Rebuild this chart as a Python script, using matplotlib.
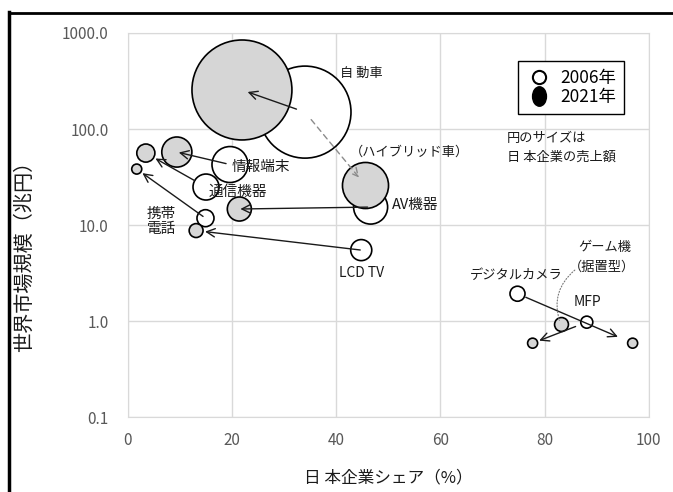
import numpy as np
import matplotlib.pyplot as plt
from matplotlib.lines import Line2D
from matplotlib.markers import MarkerStyle
from matplotlib.transforms import Affine2D

plt.rcParams['font.family'] = ['Noto Sans CJK JP', 'DejaVu Sans']

# Product groups: share of Japanese companies (%) and world market size (trillion yen)
items = ["自動車", "AV機器", "情報端末", "通信機器", "携帯電話", "LCD TV", "デジタルカメラ", "MFP"]
share_2006 = [34.0, 46.6, 19.6, 15.0, 14.9, 44.8, 74.8, 88.1]
market_2006 = [150.0, 15.4, 42.7, 24.9, 11.8, 5.49, 1.93, 0.976]
sales_2006 = [43.9, 6.0, 6.7, 3.5, 1.5, 2.3, 1.17, 0.75]

share_2021 = [21.9, 21.4, 9.4, 3.45, 1.7, 13.1, 96.9, 77.7]
market_2021 = [255.0, 14.7, 57.6, 56.2, 38.3, 8.77, 0.59, 0.59]
sales_2021 = [51.8, 3.0, 4.7, 1.7, 0.52, 1.0, 0.52, 0.52]

# Hybrid cars (2021 only) and stationary game consoles
hybrid_share, hybrid_market, hybrid_sales = 45.5, 26.4, 11.0
game_share, game_market, game_sales = 83.1, 0.93, 1.0

# arrow gaps at start / end (pixels)
gap_start = [9, 3, 4, 13, 3, 1, 9, 12]
gap_end = [6, 1, 2, 11, 7, 9, 16, 7]

size_scale = 100.0
gray = '#d6d6d6'

fig = plt.figure(figsize=(6.73, 4.92), dpi=100)
ax = fig.add_axes([0.190, 0.152, 0.774, 0.781])

ax.scatter(share_2006, market_2006, s=np.array(sales_2006) * size_scale,
           facecolor='white', edgecolor='black', linewidth=1.2, zorder=3)
ax.scatter(share_2021, market_2021, s=np.array(sales_2021) * size_scale,
           facecolor=gray, edgecolor='black', linewidth=1.2, zorder=4)
ax.scatter([hybrid_share], [hybrid_market], s=[hybrid_sales * size_scale],
           facecolor=gray, edgecolor='black', linewidth=1.2, zorder=4)
ax.scatter([game_share], [game_market], s=[game_sales * size_scale],
           facecolor=gray, edgecolor='black', linewidth=1.2, zorder=4)

# 2006 -> 2021 arrows
for i in range(len(items)):
    ax.annotate("", xy=(share_2021[i], market_2021[i]),
                xytext=(share_2006[i], market_2006[i]),
                arrowprops=dict(arrowstyle='->', color='#1a1a1a', lw=1.0,
                                mutation_scale=15,
                                shrinkA=gap_start[i] * 0.72,
                                shrinkB=gap_end[i] * 0.72),
                zorder=5)

# automobile -> hybrid (dashed)
ax.annotate("", xy=(hybrid_share, hybrid_market),
            xytext=(share_2006[0], market_2006[0]),
            arrowprops=dict(arrowstyle='->', color='#8c8c8c', lw=1.0,
                            linestyle=(0, (4, 3)), mutation_scale=15,
                            shrinkA=7, shrinkB=6.5),
            zorder=5)

# labels
lab = dict(fontsize=10.5, color='#1a1a1a', zorder=6)
ax.text(40.7, 383, "自 動車", ha='left', va='center', fontsize=9.5, color='#1a1a1a')
ax.text(42.6, 57.6, "（ハイブリッド車）", ha='left', va='center', fontsize=9.5, color='#1a1a1a')
ax.text(20.0, 40.2, "情報端末", ha='left', va='center', **lab)
ax.text(15.5, 22.1, "通信機器", ha='left', va='center', **lab)
ax.text(6.4, 11.0, "携帯\n電話", ha='center', va='center', linespacing=1.1, **lab)
ax.text(50.6, 16.2, "AV機器", ha='left', va='center', **lab)
ax.text(44.9, 3.16, "LCD TV", ha='center', va='center', fontsize=10, color='#1a1a1a')
ax.text(74.5, 3.01, "デジタルカメラ", ha='center', va='center', fontsize=9.5, color='#1a1a1a')
ax.text(88.3, 1.58, "MFP", ha='center', va='center', fontsize=10, color='#1a1a1a')
ax.text(91.6, 5.9, "ゲーム機", ha='center', va='center', fontsize=9.5, color='#1a1a1a')
ax.text(91.0, 3.65, "（据置型）", ha='center', va='center', fontsize=9.5, color='#1a1a1a')
ax.text(72.7, 80.5, "円のサイズは", ha='left', va='center', fontsize=9.5, color='#1a1a1a')
ax.text(72.7, 51.1, "日 本企業の売上額", ha='left', va='center', fontsize=9.5, color='#1a1a1a')

# leader for game consoles
ax.annotate("", xy=(game_share, game_market), xytext=(85.8, 3.4),
            arrowprops=dict(arrowstyle='-', color='#777777', lw=0.8,
                            linestyle=':', shrinkA=0, shrinkB=3,
                            connectionstyle='arc3,rad=0.35'),
            zorder=5)

# axes
ax.set_xlim(0, 100)
ax.set_yscale('log')
ax.set_ylim(0.1, 1000)
ax.set_xticks([0, 20, 40, 60, 80, 100])
ax.set_yticks([0.1, 1, 10, 100, 1000])
ax.yaxis.set_minor_locator(plt.NullLocator())
ax.set_yticklabels([f"{v:.1f}" for v in [0.1, 1, 10, 100, 1000]])
ax.tick_params(length=0, labelsize=11, labelcolor='#595959')
ax.tick_params(axis='x', pad=11)
ax.tick_params(axis='y', pad=14)
ax.grid(True, color='#d9d9d9', lw=1.0)
ax.set_axisbelow(True)
for sp in ax.spines.values():
    sp.set_color('#d9d9d9')

ax.set_xlabel("日 本企業シェア（%）", fontsize=12, color='#1a1a1a')
ax.xaxis.set_label_coords(0.5, -0.135)
ax.set_ylabel("世界市場規模（兆円）", fontsize=14.5, color='#1a1a1a')
ax.yaxis.set_label_coords(-0.178, 0.432)

# legend
h06 = Line2D([], [], ls='', marker='o', ms=9.5, mfc='white', mec='black', mew=1.5)
h21 = Line2D([], [], ls='', marker=MarkerStyle('o', transform=Affine2D().scale(1.0, 1.4)),
             ms=10, mfc='black', mec='black')
leg = ax.legend([h06, h21], ["2006年", "2021年"], loc='upper left',
                bbox_to_anchor=(0.749, 0.927), fancybox=False, framealpha=1,
                edgecolor='black', fontsize=12.5, handletextpad=0.5,
                handlelength=1.5, borderpad=0.45, labelspacing=0.05,
                borderaxespad=0)
leg.get_frame().set_linewidth(1.0)

# outer frame (top and left)
fig.add_artist(Line2D([0.013, 1.0], [1 - 13 / 492, 1 - 13 / 492], color='black', lw=2.0))
fig.add_artist(Line2D([0.014, 0.014], [0.0, 1 - 12 / 492], color='black', lw=2.5))

fig.savefig("out.png", dpi=100)
